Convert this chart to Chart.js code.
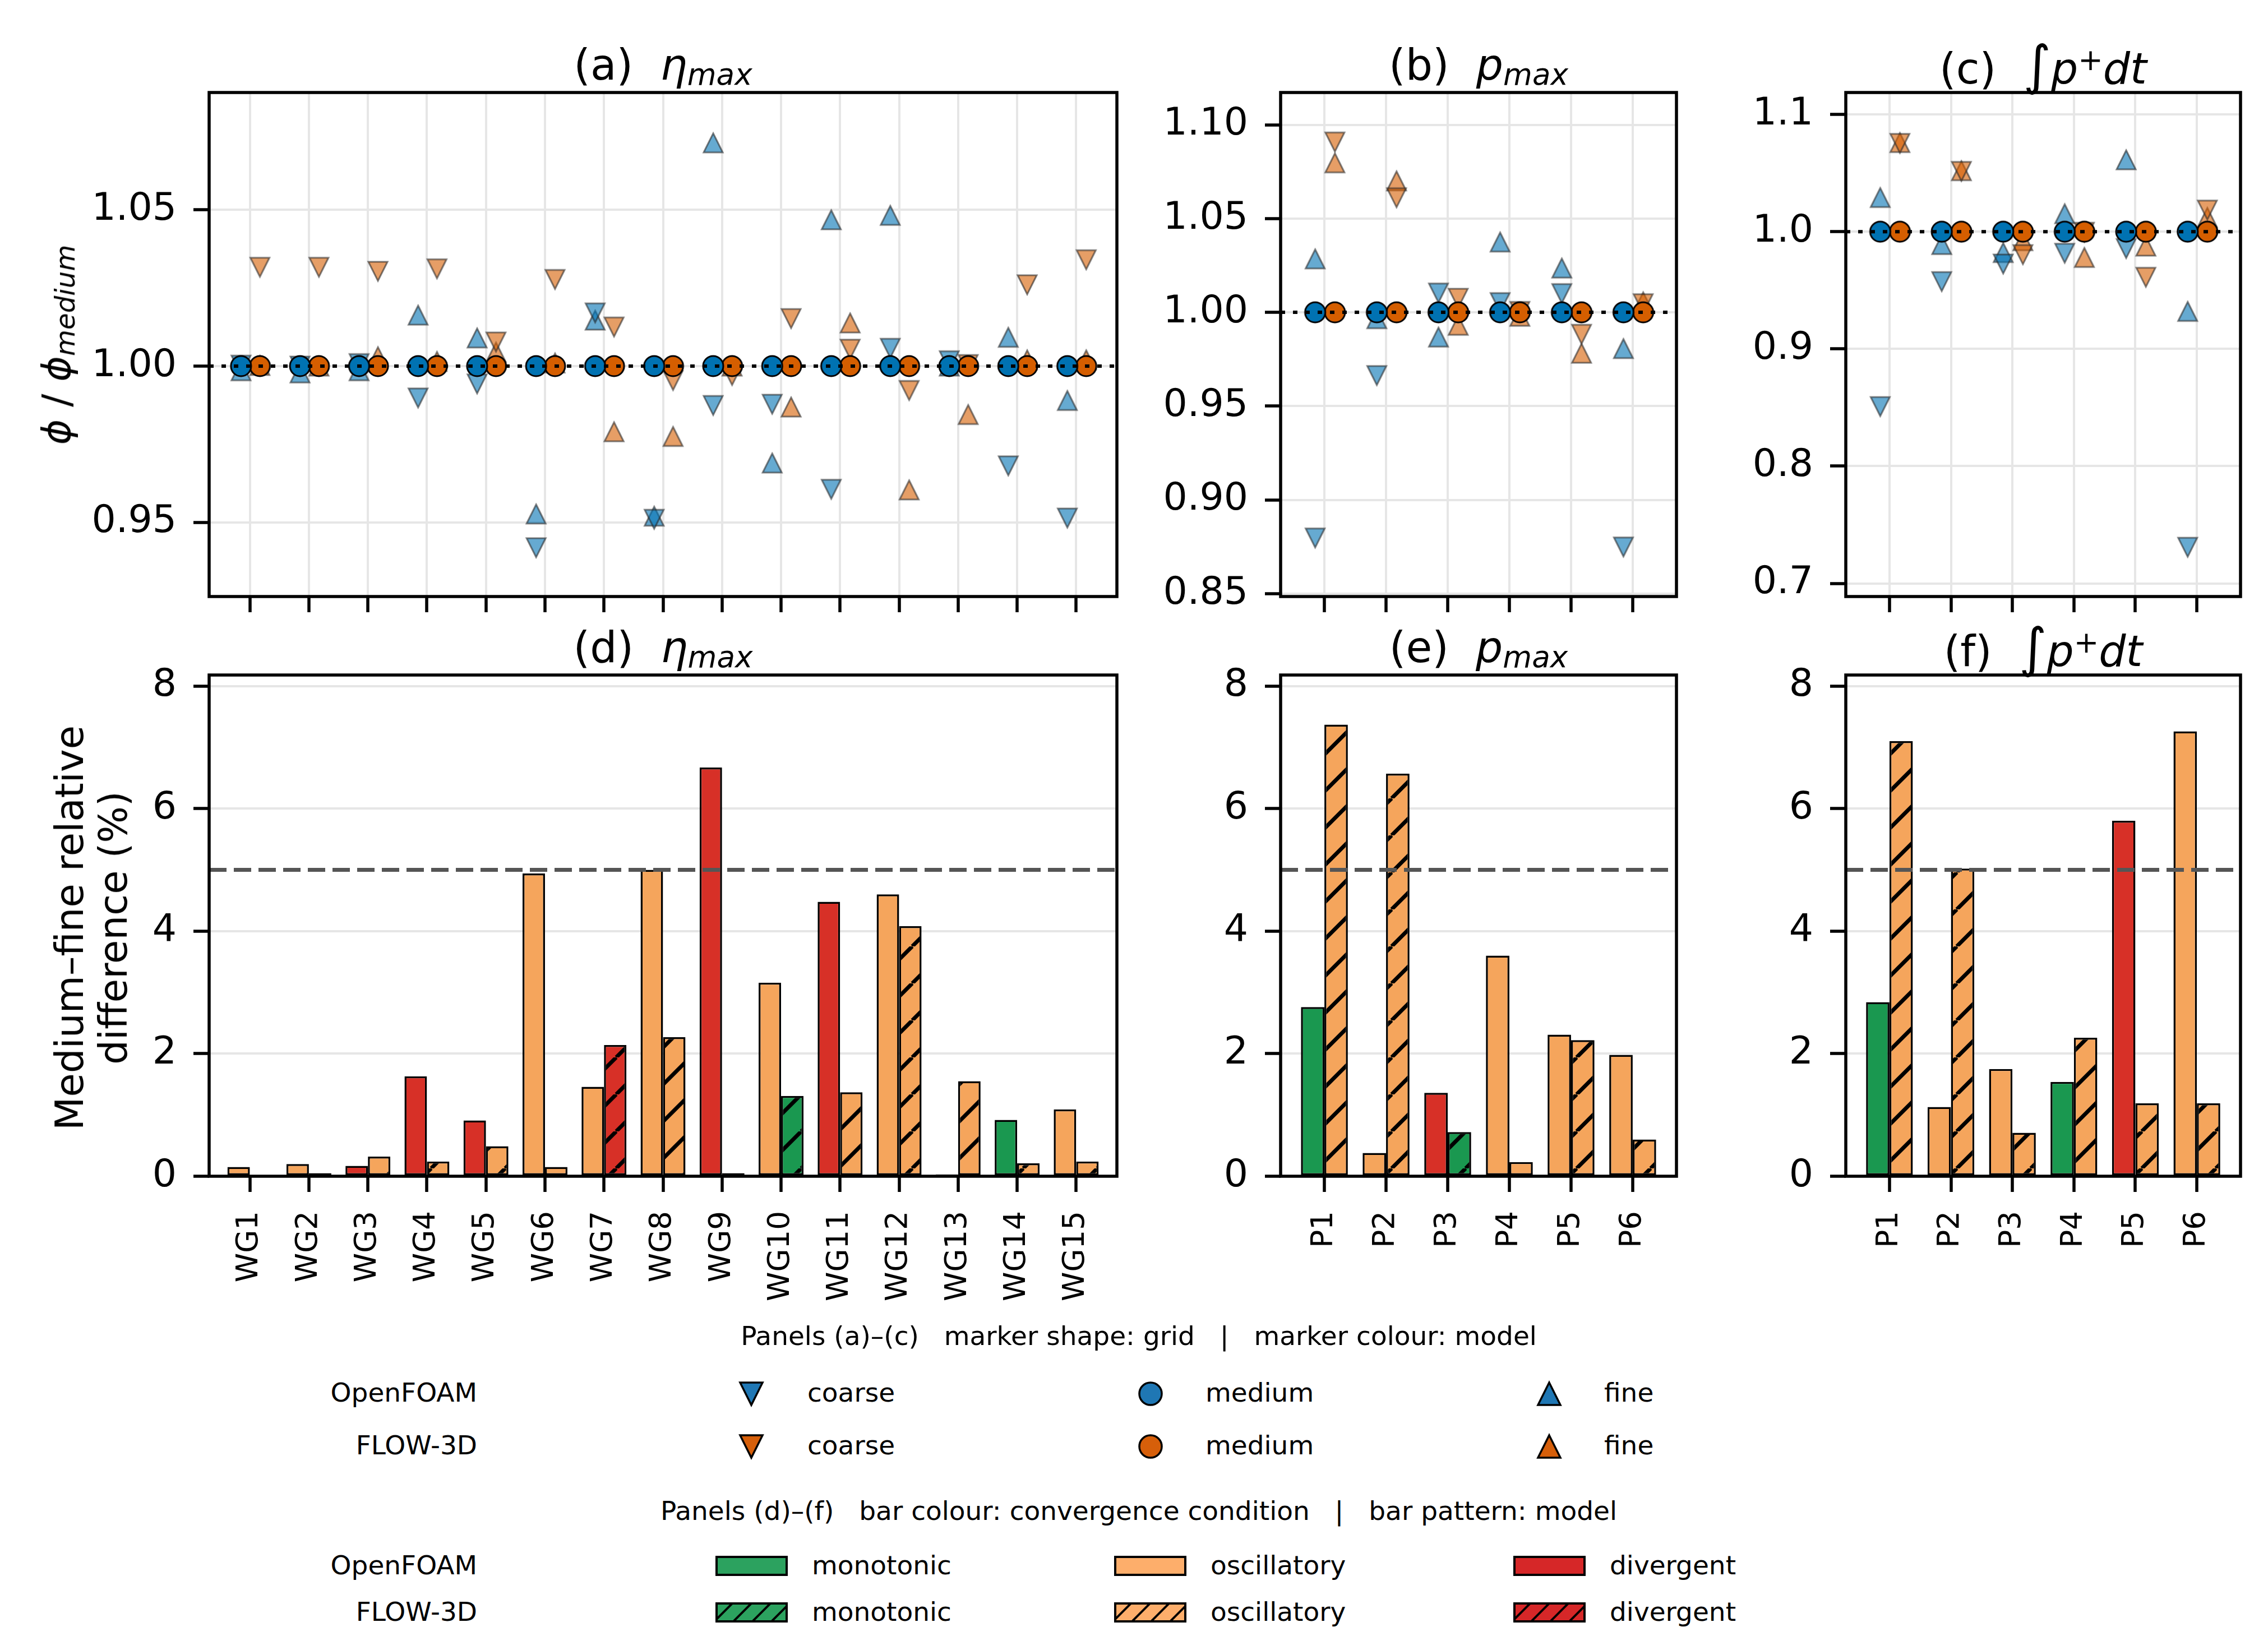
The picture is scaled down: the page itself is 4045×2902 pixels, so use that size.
<!DOCTYPE html>
<html>
<head>
<meta charset="utf-8">
<script src="https://cdn.jsdelivr.net/npm/chart.js@4.4.1/dist/chart.umd.min.js"></script>
<style>
  body { margin: 0; background: #fff; }
  #fig { position: relative; width: 4045px; height: 2902px; background: #fff; overflow: hidden;
         font-family: 'DejaVu Sans', sans-serif; color: #000; }
  #fig .t { position: absolute; white-space: pre; }
  #fig canvas { position: absolute; }
  sub, sup { font-size: 0.7em; vertical-align: baseline; position: relative; }
  sub { top: 0.17em; }
  sup { top: -0.45em; }
</style>
</head>
<body>
<div id="fig"></div>
<script>
// categories
const gauges = ['WG1', 'WG2', 'WG3', 'WG4', 'WG5', 'WG6', 'WG7', 'WG8', 'WG9', 'WG10', 'WG11', 'WG12', 'WG13', 'WG14', 'WG15'];
const probes = ['P1', 'P2', 'P3', 'P4', 'P5', 'P6'];

// (a) eta_max, normalised by the medium grid
const etaOfCoarse = [1.0003, 1.0000, 1.0008, 0.9898, 0.9943, 0.9419, 1.0170, 0.9510, 0.9874, 0.9878, 0.9606, 1.0057, 1.0017, 0.9681, 0.9514];
const etaOfMedium = [1, 1, 1, 1, 1, 1, 1, 1, 1, 1, 1, 1, 1, 1, 1];
const etaOfFine   = [0.9985, 0.9978, 0.9985, 1.0163, 1.0090, 0.9527, 1.0147, 0.9520, 1.0714, 0.9690, 1.0468, 1.0482, 1.0000, 1.0092, 0.9890];
const etaFlCoarse = [1.0316, 1.0316, 1.0303, 1.0311, 1.0077, 1.0277, 1.0125, 0.9954, 0.9970, 1.0152, 1.0054, 0.9922, 1.0005, 1.0260, 1.0340];
const etaFlMedium = [1, 1, 1, 1, 1, 1, 1, 1, 1, 1, 1, 1, 1, 1, 1];
const etaFlFine   = [1.0002, 1.0000, 1.0030, 1.0015, 1.0045, 1.0010, 0.9790, 0.9775, 1.0000, 0.9869, 1.0138, 0.9604, 0.9845, 1.0020, 1.0020];

// (b) p_max
const pOfCoarse = [0.8797, 0.9663, 1.0103, 1.0052, 1.0100, 0.8749];
const pOfMedium = [1, 1, 1, 1, 1, 1];
const pOfFine   = [1.0285, 0.9966, 0.9868, 1.0375, 1.0236, 0.9807];
const pFlCoarse = [1.0908, 1.0611, 1.0075, 1.0005, 0.9883, 1.0046];
const pFlMedium = [1, 1, 1, 1, 1, 1];
const pFlFine   = [1.0797, 1.0701, 0.9931, 0.9979, 0.9782, 1.0056];

// (c) impulse
const iOfCoarse = [0.8508, 0.9574, 0.9724, 0.9816, 0.9856, 0.7308];
const iOfMedium = [1, 1, 1, 1, 1, 1];
const iOfFine   = [1.0291, 0.9890, 0.9822, 1.0153, 1.0613, 0.9320];
const iFlCoarse = [1.0753, 1.0514, 0.9804, 0.9995, 0.9611, 1.0184];
const iFlMedium = [1, 1, 1, 1, 1, 1];
const iFlFine   = [1.0760, 1.0520, 0.9923, 0.9780, 0.9877, 1.0122];

// (d)-(f) medium-fine relative difference (%) and convergence condition
// m = monotonic, o = oscillatory, d = divergent
const etaDiffOf = [0.15, 0.20, 0.17, 1.63, 0.91, 4.94, 1.46, 5.00, 6.67, 3.16, 4.48, 4.60, 0.03, 0.92, 1.09];
const etaDiffFl = [0.00, 0.05, 0.32, 0.24, 0.49, 0.15, 2.14, 2.27, 0.05, 1.31, 1.37, 4.08, 1.55, 0.21, 0.24];
const etaCondOf = ['o', 'o', 'd', 'd', 'd', 'o', 'o', 'o', 'd', 'o', 'd', 'o', 'm', 'm', 'o'];
const etaCondFl = ['m', 'm', 'o', 'o', 'o', 'o', 'd', 'o', 'm', 'm', 'o', 'o', 'o', 'o', 'o'];

const pDiffOf = [2.76, 0.38, 1.36, 3.60, 2.31, 1.98];
const pDiffFl = [7.37, 6.57, 0.72, 0.23, 2.22, 0.60];
const pCondOf = ['m', 'o', 'd', 'o', 'o', 'o'];
const pCondFl = ['o', 'o', 'm', 'o', 'o', 'o'];

const iDiffOf = [2.84, 1.13, 1.75, 1.54, 5.80, 7.26];
const iDiffFl = [7.10, 5.02, 0.71, 2.26, 1.19, 1.19];
const iCondOf = ['m', 'o', 'o', 'm', 'd', 'o'];
const iCondFl = ['o', 'o', 'o', 'o', 'o', 'o'];

// tick values
const ticksA = [0.95, 1.00, 1.05];
const ticksB = [0.85, 0.90, 0.95, 1.00, 1.05, 1.10];
const ticksC = [0.7, 0.8, 0.9, 1.0, 1.1];
const ticksBar = [0, 2, 4, 6, 8];
const threshold = 5;

// ---------------------------------------------------------------
const fig = document.getElementById('fig');
const FONT = "'DejaVu Sans', sans-serif";
Chart.defaults.font.family = FONT;
Chart.defaults.color = '#000';

const BLUE = [0, 114, 178], ORANGE = [213, 94, 0];
const GRID = '#e6e6e6';
const BAR = { m: '#1a9850', o: '#f5a55c', d: '#d73027' };
const LEG = { m: '#2ca25f', o: '#fdae6b', d: '#d62728' };
// room round each axes box; must exceed Chart.js' own label padding
const YW = 330, PT = 110, PR = 80;

const rgba = (c, a) => `rgba(${c[0]},${c[1]},${c[2]},${a})`;

function triCanvas(fill, edge, size, lw, up) {
  const p = Math.ceil(lw) + 2;
  const c = document.createElement('canvas');
  c.width = c.height = size + 2 * p;
  const g = c.getContext('2d');
  g.beginPath();
  if (up) { g.moveTo(p + size / 2, p); g.lineTo(p + size, p + size); g.lineTo(p, p + size); }
  else { g.moveTo(p, p); g.lineTo(p + size, p); g.lineTo(p + size / 2, p + size); }
  g.closePath();
  g.fillStyle = fill; g.fill();
  g.lineWidth = lw; g.strokeStyle = edge; g.stroke();
  return c;
}

function circCanvas(fill, d, lw) {
  const p = Math.ceil(lw) + 2;
  const c = document.createElement('canvas');
  c.width = c.height = d + 2 * p;
  const g = c.getContext('2d');
  g.beginPath(); g.arc(p + d / 2, p + d / 2, d / 2, 0, Math.PI * 2);
  g.fillStyle = fill; g.fill();
  g.lineWidth = lw; g.strokeStyle = '#000'; g.stroke();
  return c;
}

function hatch(color, step, lw) {
  const c = document.createElement('canvas');
  c.width = c.height = step;
  const g = c.getContext('2d');
  g.fillStyle = color; g.fillRect(0, 0, step, step);
  g.strokeStyle = '#000'; g.lineWidth = lw; g.beginPath();
  for (const o of [-step, 0, step]) { g.moveTo(o, step); g.lineTo(o + step, 0); }
  g.stroke();
  return document.createElement('canvas').getContext('2d').createPattern(c, 'repeat');
}

// box round the axes plus a reference line (dotted 1.0 / dashed 5 %)
const frame = {
  id: 'frame',
  afterDatasetsDraw(chart, args, opts) {
    const { ctx, chartArea: a } = chart;
    if (opts.refValue !== undefined) {
      const y = chart.scales.y.getPixelForValue(opts.refValue);
      ctx.save();
      ctx.beginPath();
      ctx.setLineDash(opts.refDash);
      ctx.lineWidth = opts.refWidth;
      ctx.strokeStyle = opts.refColor;
      ctx.moveTo(a.left, y); ctx.lineTo(a.right, y);
      ctx.stroke();
      ctx.restore();
    }
    ctx.save();
    ctx.lineWidth = 5.5; ctx.strokeStyle = '#000';
    ctx.strokeRect(a.left, a.top, a.right - a.left, a.bottom - a.top);
    ctx.restore();
  }
};

function place(area, xh) {
  const [L, T, R, B] = area;
  const c = document.createElement('canvas');
  c.width = YW + (R - L) + PR;
  c.height = PT + (B - T) + xh;
  c.style.left = (L - YW) + 'px';
  c.style.top = (T - PT) + 'px';
  c.style.width = c.width + 'px';
  c.style.height = c.height + 'px';
  fig.appendChild(c);
  return c.getContext('2d');
}

function xAxis(range, labels, xh, onArea, showLabels) {
  return {
    type: 'linear', min: range[0], max: range[1], offset: false,
    afterBuildTicks: s => { s.ticks = labels.map((_, i) => ({ value: i })); },
    afterFit: s => { s.height = xh; },
    grid: { display: true, drawOnChartArea: onArea, color: GRID, lineWidth: 4, offset: false,
            tickColor: '#000', tickWidth: 5.5, tickLength: 28 },
    border: { display: false },
    ticks: {
      autoSkip: false, minRotation: 90, maxRotation: 90, padding: 34,
      font: { size: 53 },
      callback: v => (showLabels ? labels[Math.round(v)] : '')
    }
  };
}

function yAxis(range, ticks, dec) {
  return {
    type: 'linear', min: range[0], max: range[1],
    afterBuildTicks: s => { s.ticks = ticks.map(v => ({ value: v })); },
    afterFit: s => { s.width = YW; },
    grid: { color: GRID, lineWidth: 4, tickColor: '#000', tickWidth: 5.5, tickLength: 28 },
    border: { display: false },
    ticks: { autoSkip: false, padding: 30, font: { size: 68 }, callback: v => v.toFixed(dec) }
  };
}

const OFF_OF = -0.15, OFF_FL = 0.17;

function scatterPanel(area, xRange, labels, yRange, yTicks, dec, s) {
  const mk = (vals, off, img) => ({
    data: vals.map((v, i) => ({ x: i + off, y: v })),
    pointStyle: img, pointRadius: 18, pointHoverRadius: 18
  });
  const triB = up => triCanvas(rgba(BLUE, 0.6), 'rgba(40,40,40,0.6)', 34, 3, up);
  const triO = up => triCanvas(rgba(ORANGE, 0.6), 'rgba(40,40,40,0.6)', 34, 3, up);
  new Chart(place(area, 110), {
    type: 'scatter',
    data: {
      datasets: [
        mk(s[1], OFF_OF, circCanvas(rgba(BLUE, 1), 36, 3)),
        mk(s[0], OFF_OF, triB(false)),
        mk(s[2], OFF_OF, triB(true)),
        mk(s[4], OFF_FL, circCanvas(rgba(ORANGE, 1), 36, 3)),
        mk(s[3], OFF_FL, triO(false)),
        mk(s[5], OFF_FL, triO(true))
      ]
    },
    options: {
      responsive: false, animation: false, devicePixelRatio: 1,
      layout: { padding: { left: 0, top: PT, right: PR, bottom: 0 } },
      plugins: {
        legend: { display: false }, tooltip: { enabled: false },
        frame: { refValue: 1, refDash: [8, 14], refWidth: 6, refColor: '#000' }
      },
      scales: { x: xAxis(xRange, labels, 110, true, false), y: yAxis(yRange, yTicks, dec) }
    },
    plugins: [frame]
  });
}

function barPanel(area, xRange, labels, ofVals, flVals, ofCond, flCond) {
  new Chart(place(area, 300), {
    type: 'bar',
    data: {
      datasets: [
        { data: ofVals.map((v, i) => ({ x: i, y: v })), backgroundColor: ofCond.map(c => BAR[c]),
          borderColor: '#000', borderWidth: 3.5, borderSkipped: false,
          categoryPercentage: 0.76, barPercentage: 1 },
        { data: flVals.map((v, i) => ({ x: i, y: v })), backgroundColor: flCond.map(c => hatch(BAR[c], 66, 7)),
          borderColor: '#000', borderWidth: 3.5, borderSkipped: false,
          categoryPercentage: 0.76, barPercentage: 1 }
      ]
    },
    options: {
      responsive: false, animation: false, devicePixelRatio: 1,
      layout: { padding: { left: 0, top: PT, right: PR, bottom: 0 } },
      plugins: {
        legend: { display: false }, tooltip: { enabled: false },
        frame: { refValue: threshold, refDash: [31, 13], refWidth: 7, refColor: '#555' }
      },
      scales: { x: xAxis(xRange, labels, 300, false, true), y: yAxis([0, 8.18], ticksBar, 0) }
    },
    plugins: [frame]
  });
}

// axes rectangles [left, top, right, bottom]
const A = [373, 165, 1992, 1064], B = [2284, 165, 2990, 1064], C = [3292, 165, 3996, 1064];
const D = [373, 1204, 1992, 2098], E = [2284, 1204, 2990, 2098], F = [3292, 1204, 3996, 2098];
const RW = [-0.69, 14.69], RP = [-0.71, 5.71];

scatterPanel(A, RW, gauges, [0.9263, 1.0875], ticksA, 2,
  [etaOfCoarse, etaOfMedium, etaOfFine, etaFlCoarse, etaFlMedium, etaFlFine]);
scatterPanel(B, RP, probes, [0.8485, 1.1172], ticksB, 2,
  [pOfCoarse, pOfMedium, pOfFine, pFlCoarse, pFlMedium, pFlFine]);
scatterPanel(C, RP, probes, [0.6888, 1.1187], ticksC, 1,
  [iOfCoarse, iOfMedium, iOfFine, iFlCoarse, iFlMedium, iFlFine]);
barPanel(D, RW, gauges, etaDiffOf, etaDiffFl, etaCondOf, etaCondFl);
barPanel(E, RP, probes, pDiffOf, pDiffFl, pCondOf, pCondFl);
barPanel(F, RP, probes, iDiffOf, iDiffFl, iCondOf, iCondFl);

// ---------------- text ----------------
function text(html, css) {
  const e = document.createElement('div');
  e.className = 't';
  e.style.cssText = css;
  e.innerHTML = html;
  fig.appendChild(e);
  return e;
}
function title(html, area, baseline) {
  const fs = 76;
  text(html, `left:${(area[0] + area[2]) / 2}px; top:${baseline - 0.846 * fs}px; font-size:${fs}px; line-height:${fs}px; transform:translateX(-50%);`);
}
const integ = '<span style="font-size:1.25em">∫</span><i>p</i><sup>+</sup><i>dt</i>';
title('(a)  <i>η</i><sub><i>max</i></sub>', A, 142);
title('(b)  <i>p</i><sub><i>max</i></sub>', B, 142);
title('(c)  ' + integ, C, 142);
title('(d)  <i>η</i><sub><i>max</i></sub>', D, 1181);
title('(e)  <i>p</i><sub><i>max</i></sub>', E, 1181);
title('(f)  ' + integ, F, 1181);

function vlabel(html, cx, cy, fs, lh) {
  text(html, `left:${cx}px; top:${cy}px; font-size:${fs}px; line-height:${lh}px; text-align:center; transform:translate(-50%,-50%) rotate(-90deg);`);
}
vlabel('<i>ϕ</i> / <i>ϕ</i><sub><i>medium</i></sub>', 105, 615, 69, 69);
vlabel('Medium–fine relative\ndifference (%)', 163, 1655, 69, 78);

// ---------------- legend ----------------
const LFS = 47;
function ltext(s, x, cy, align) {
  let css = `top:${cy - 0.48 * LFS}px; font-size:${LFS}px; line-height:${LFS}px;`;
  if (align === 'right') css += `right:${4045 - x}px; text-align:right;`;
  else if (align === 'center') css += `left:${x}px; transform:translateX(-50%);`;
  else css += `left:${x}px;`;
  text(s, css);
}
function putCanvas(c, cx, cy) {
  c.style.left = (cx - c.width / 2) + 'px';
  c.style.top = (cy - c.height / 2) + 'px';
  fig.appendChild(c);
}
function patch(color, hatched, cx, cy) {
  const w = 125, h = 32, p = 3;
  const c = document.createElement('canvas');
  c.width = w + 2 * p; c.height = h + 2 * p;
  const g = c.getContext('2d');
  g.fillStyle = hatched ? hatch(color, 34, 4) : color;
  g.fillRect(p, p, w, h);
  g.lineWidth = 4; g.strokeStyle = '#000'; g.strokeRect(p, p, w, h);
  putCanvas(c, cx, cy);
}

ltext('Panels (a)–(c)   marker shape: grid   |   marker colour: model', 2031, 2382, 'center');
const mRows = [['OpenFOAM', '#1f77b4', 2483], ['FLOW-3D', '#d65f0a', 2577]];
for (const [name, col, cy] of mRows) {
  ltext(name, 851, cy, 'right');
  putCanvas(triCanvas(col, '#000', 40, 3.5, false), 1340, cy + 3);
  ltext('coarse', 1440, cy, 'left');
  putCanvas(circCanvas(col, 40, 3.5), 2052, cy + 3);
  ltext('medium', 2150, cy, 'left');
  putCanvas(triCanvas(col, '#000', 40, 3.5, true), 2763, cy + 3);
  ltext('fine', 2861, cy, 'left');
}

ltext('Panels (d)–(f)   bar colour: convergence condition   |   bar pattern: model', 2031, 2694, 'center');
const bRows = [['OpenFOAM', false, 2791], ['FLOW-3D', true, 2874]];
for (const [name, hatched, cy] of bRows) {
  ltext(name, 851, cy, 'right');
  patch(LEG.m, hatched, 1340, cy + 2);
  ltext('monotonic', 1448, cy, 'left');
  patch(LEG.o, hatched, 2051, cy + 2);
  ltext('oscillatory', 2159, cy, 'left');
  patch(LEG.d, hatched, 2763, cy + 2);
  ltext('divergent', 2871, cy, 'left');
}
</script>
</body>
</html>
